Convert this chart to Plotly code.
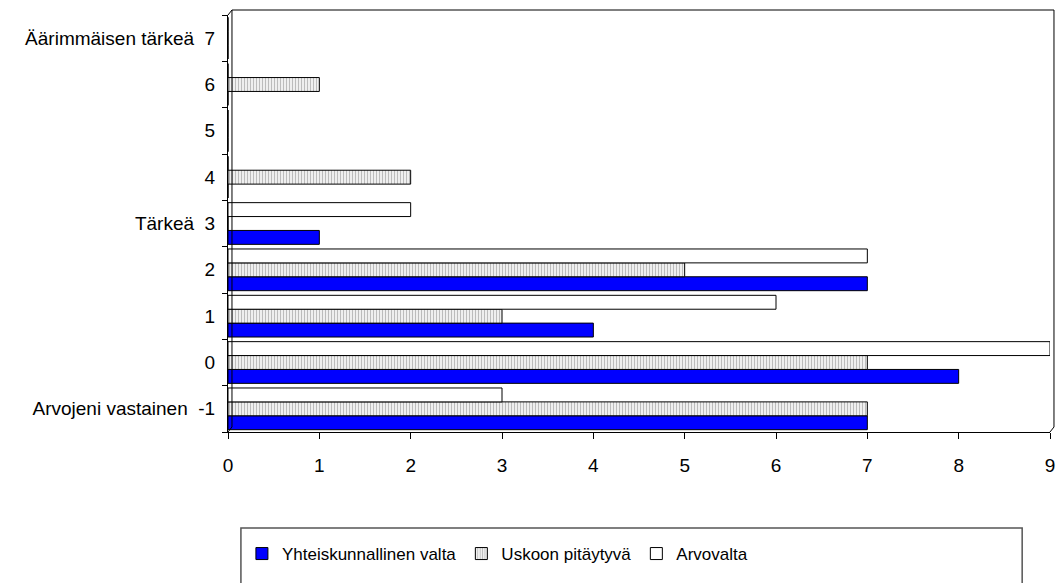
import plotly.graph_objects as go

categories = ["-1", "0", "1", "2", "3", "4", "5", "6", "7"]
tick_labels = ["Arvojeni vastainen\u00a0 -1", "0", "1", "2", "Tärkeä\u00a0 3",
               "4", "5", "6", "Äärimmäisen tärkeä\u00a0 7"]
yhteiskunnallinen = [7, 8, 4, 7, 1, 0, 0, 0, 0]
uskoon = [7, 7, 3, 5, 0, 2, 0, 1, 0]
arvovalta = [3, 9, 6, 7, 2, 0, 0, 0, 0]
x_ticks = [0, 1, 2, 3, 4, 5, 6, 7, 8, 9]

W, H = 1062, 583
L, R, T, B = 228, 7, 15, 151
pw, ph = W - L - R, H - T - B
dx, dy = 4 / pw, 5 / ph  # 3D depth offset in paper units

FONT = "Liberation Sans, Arial, sans-serif"

fig = go.Figure()
fig.add_trace(go.Bar(
    y=categories, x=yhteiskunnallinen, orientation="h",
    name="Yhteiskunnallinen valta",
    marker=dict(color="#0000FF", line=dict(color="black", width=1)),
))
fig.add_trace(go.Bar(
    y=categories, x=uskoon, orientation="h",
    name="Uskoon pitäytyvä",
    marker=dict(color="white", line=dict(color="black", width=1),
                pattern=dict(shape="|", fgcolor="#7a7a7a", bgcolor="white",
                             size=3, solidity=0.5)),
))
fig.add_trace(go.Bar(
    y=categories, x=arvovalta, orientation="h",
    name="Arvovalta",
    marker=dict(color="white", line=dict(color="black", width=1)),
))

shapes = [
    # back wall frame (3D look)
    dict(type="line", xref="paper", yref="paper", x0=dx, y0=1 + dy, x1=1 + dx, y1=1 + dy,
         line=dict(color="black", width=1)),
    dict(type="line", xref="paper", yref="paper", x0=1 + dx, y0=1 + dy, x1=1 + dx, y1=dy,
         line=dict(color="black", width=1)),
    dict(type="line", xref="paper", yref="paper", x0=dx, y0=1 + dy, x1=dx, y1=dy,
         line=dict(color="black", width=1)),
    dict(type="line", xref="paper", yref="paper", x0=0, y0=1, x1=dx, y1=1 + dy,
         line=dict(color="black", width=1)),
    dict(type="line", xref="paper", yref="paper", x0=1, y0=0, x1=1 + dx, y1=dy,
         line=dict(color="black", width=1)),
    dict(type="line", xref="paper", yref="paper", x0=0, y0=0, x1=dx, y1=dy,
         line=dict(color="black", width=1)),
    # legend box
    dict(type="rect", xref="paper", yref="paper",
         x0=(241 - L) / pw, x1=(1027 - L) / pw,
         y0=(H - B - 528) / ph, y1=(H - B - 600) / ph,
         line=dict(color="#555555", width=1.5), fillcolor="rgba(0,0,0,0)"),
]

fig.update_layout(
    width=W, height=H,
    margin=dict(l=L, r=R, t=T, b=B, pad=0),
    paper_bgcolor="white", plot_bgcolor="white",
    barmode="group", bargap=0.1, bargroupgap=0,
    font=dict(family=FONT, size=19, color="black"),
    showlegend=True,
    legend=dict(orientation="h", x=(242 - L) / pw, y=(H - B - 536) / ph,
                xanchor="left", yanchor="top", font=dict(size=17),
                bgcolor="rgba(0,0,0,0)", borderwidth=0, traceorder="normal",
                itemwidth=30),
    shapes=shapes,
    xaxis=dict(range=[0, 9], tickvals=x_ticks, ticktext=[str(v) for v in x_ticks],
               showgrid=False, zeroline=False, showline=True, linecolor="black",
               linewidth=1, ticks="outside", ticklen=6, tickcolor="black",
               ticklabelstandoff=10, tickfont=dict(size=19), fixedrange=True),
    yaxis=dict(type="category", categoryorder="array", categoryarray=categories,
               tickvals=categories, ticktext=tick_labels,
               showgrid=False, zeroline=False, showline=True, linecolor="black",
               linewidth=1, ticks="outside", ticklen=5, tickcolor="black",
               tickson="boundaries", ticklabelstandoff=8,
               tickfont=dict(size=19), fixedrange=True),
)

fig.write_html("out.html", include_plotlyjs=True, config={"displayModeBar": False})
